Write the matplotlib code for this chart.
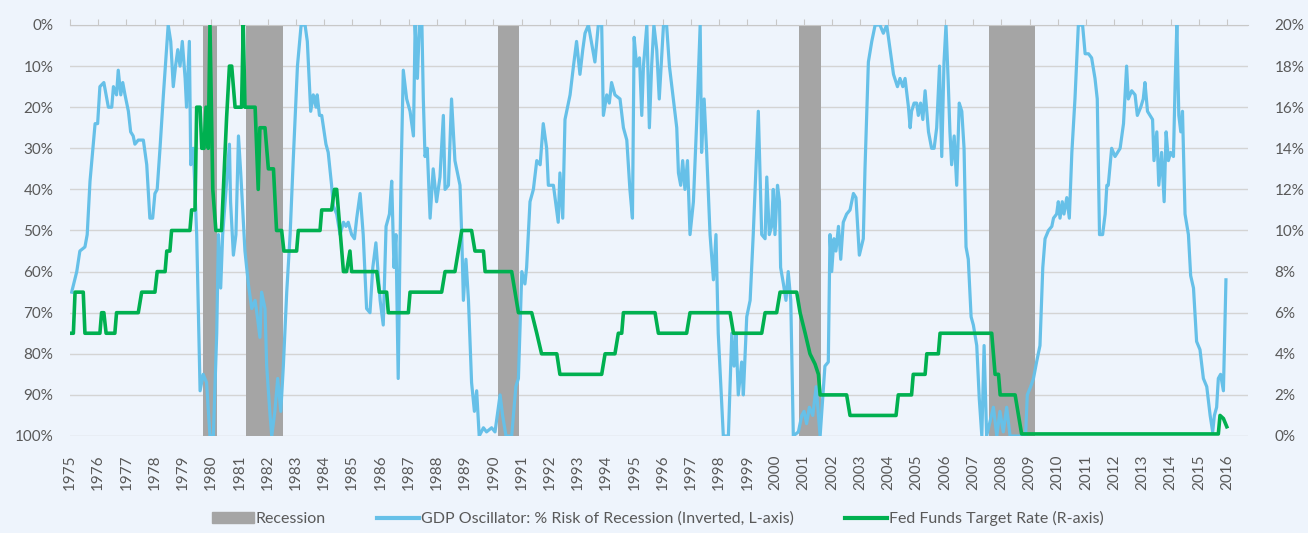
import matplotlib
matplotlib.use('Agg')
import matplotlib.pyplot as plt
import matplotlib.patches as mpatches
from matplotlib.lines import Line2D
import numpy as np

plt.rcParams['font.family'] = ['Lato', 'DejaVu Sans']
plt.rcParams['font.size'] = 11

# --- datos ---
years = list(range(1975, 2017))

recessions = [(1979.71, 1980.21), (1981.23, 1982.55), (1990.17, 1990.91),
              (2000.83, 2001.61), (2007.57, 2009.20)]

# GDP Oscillator: % riesgo de recesion (eje izq, invertido)
gdp_t = [1975.06, 1975.24, 1975.35, 1975.53, 1975.61, 1975.71, 1975.89, 1975.98, 1976.06, 1976.20,
         1976.36, 1976.48, 1976.54, 1976.65, 1976.71, 1976.80, 1976.87, 1976.95, 1977.07, 1977.15,
         1977.24, 1977.30, 1977.42, 1977.60, 1977.72, 1977.83, 1977.93, 1978.01, 1978.09, 1978.19,
         1978.31, 1978.48, 1978.57, 1978.66, 1978.74, 1978.82, 1978.90, 1978.98, 1979.08, 1979.13,
         1979.23, 1979.28, 1979.37, 1979.49, 1979.61, 1979.72, 1979.84, 1979.96, 1980.08, 1980.20,
         1980.26, 1980.34, 1980.41, 1980.53, 1980.65, 1980.69, 1980.79, 1980.88, 1980.97, 1981.05,
         1981.20, 1981.32, 1981.44, 1981.56, 1981.64, 1981.73, 1981.79, 1981.91, 1981.97, 1982.09,
         1982.15, 1982.26, 1982.36, 1982.47, 1982.56, 1982.68, 1982.80, 1982.91, 1983.06, 1983.19,
         1983.33, 1983.41, 1983.53, 1983.62, 1983.72, 1983.76, 1983.84, 1983.92, 1984.07, 1984.15,
         1984.27, 1984.33, 1984.45, 1984.57, 1984.69, 1984.78, 1984.86, 1984.98, 1985.08, 1985.16,
         1985.28, 1985.39, 1985.51, 1985.63, 1985.73, 1985.84, 1985.99, 1986.10, 1986.20, 1986.32,
         1986.40, 1986.48, 1986.55, 1986.63, 1986.73, 1986.81, 1986.93, 1987.05, 1987.17, 1987.23,
         1987.31, 1987.38, 1987.47, 1987.52, 1987.58, 1987.66, 1987.76, 1987.87, 1987.99, 1988.11,
         1988.23, 1988.29, 1988.41, 1988.52, 1988.64, 1988.82, 1988.88, 1988.94, 1989.03, 1989.12,
         1989.23, 1989.33, 1989.41, 1989.50, 1989.65, 1989.76, 1989.94, 1990.06, 1990.24, 1990.33,
         1990.45, 1990.65, 1990.80, 1990.89, 1991.01, 1991.12, 1991.18, 1991.30, 1991.42, 1991.54,
         1991.66, 1991.77, 1991.89, 1991.95, 1992.13, 1992.30, 1992.36, 1992.46, 1992.54, 1992.72,
         1992.84, 1992.95, 1993.07, 1993.17, 1993.25, 1993.37, 1993.60, 1993.72, 1993.84, 1993.90,
         1994.02, 1994.11, 1994.19, 1994.31, 1994.49, 1994.61, 1994.73, 1994.84, 1994.93, 1994.99,
         1995.08, 1995.18, 1995.26, 1995.32, 1995.44, 1995.53, 1995.61, 1995.69, 1995.79, 1995.88,
         1996.03, 1996.14, 1996.24, 1996.38, 1996.50, 1996.56, 1996.64, 1996.71, 1996.79, 1996.88,
         1996.97, 1997.09, 1997.21, 1997.33, 1997.38, 1997.47, 1997.56, 1997.68, 1997.80, 1997.89,
         1997.97, 1998.15, 1998.33, 1998.45, 1998.53, 1998.60, 1998.68, 1998.80, 1998.86, 1998.98,
         1999.10, 1999.21, 1999.39, 1999.51, 1999.63, 1999.69, 1999.78, 1999.86, 1999.92, 1999.98,
         2000.07, 2000.14, 2000.18, 2000.28, 2000.37, 2000.45, 2000.54, 2000.63, 2000.81, 2000.93,
         2001.01, 2001.10, 2001.20, 2001.32, 2001.44, 2001.58, 2001.67, 2001.75, 2001.87, 2001.93,
         2001.99, 2002.07, 2002.14, 2002.23, 2002.31, 2002.40, 2002.52, 2002.64, 2002.76, 2002.85,
         2002.97, 2003.11, 2003.17, 2003.29, 2003.41, 2003.53, 2003.70, 2003.82, 2003.94, 2004.06,
         2004.18, 2004.32, 2004.41, 2004.51, 2004.59, 2004.71, 2004.77, 2004.82, 2004.91, 2005.00,
         2005.06, 2005.14, 2005.22, 2005.30, 2005.42, 2005.53, 2005.62, 2005.71, 2005.81, 2005.89,
         2005.97, 2006.04, 2006.12, 2006.18, 2006.24, 2006.33, 2006.42, 2006.51, 2006.60, 2006.68,
         2006.75, 2006.83, 2006.93, 2007.01, 2007.13, 2007.22, 2007.31, 2007.39, 2007.48, 2007.72,
         2007.84, 2007.95, 2008.07, 2008.19, 2008.31, 2008.86, 2008.92, 2009.04, 2009.14, 2009.25,
         2009.37, 2009.47, 2009.55, 2009.67, 2009.79, 2009.85, 2009.96, 2010.02, 2010.08, 2010.16,
         2010.22, 2010.32, 2010.41, 2010.50, 2010.61, 2010.73, 2010.88, 2010.97, 2011.09, 2011.20,
         2011.32, 2011.40, 2011.48, 2011.59, 2011.68, 2011.74, 2011.79, 2011.91, 2012.03, 2012.21,
         2012.33, 2012.44, 2012.50, 2012.62, 2012.74, 2012.82, 2012.94, 2013.03, 2013.09, 2013.18,
         2013.27, 2013.36, 2013.41, 2013.51, 2013.58, 2013.68, 2013.77, 2013.84, 2013.92, 2014.00,
         2014.10, 2014.16, 2014.22, 2014.29, 2014.36, 2014.42, 2014.51, 2014.63, 2014.71, 2014.81,
         2014.92, 2015.04, 2015.16, 2015.28, 2015.40, 2015.49, 2015.55, 2015.63, 2015.69, 2015.77,
         2015.87, 2015.96]
gdp_v = [65, 60, 55, 54, 51, 38, 24, 24, 15, 14,
         20, 20, 15, 17, 11, 17, 14, 17, 21, 26,
         27, 29, 28, 28, 34, 47, 47, 41, 40, 30,
         17, 0, 4, 15, 10, 6, 10, 4, 13, 20,
         4, 34, 30, 51, 89, 85, 87, 100, 100, 75,
         51, 64, 51, 40, 29, 43, 56, 51, 27, 36,
         55, 63, 69, 67, 71, 76, 65, 69, 83, 95,
         100, 94, 86, 94, 83, 65, 51, 33, 10, 0,
         0, 4, 21, 17, 20, 17, 22, 22, 29, 31,
         39, 44, 46, 51, 48, 49, 48, 51, 52, 47,
         41, 51, 69, 70, 59, 53, 67, 73, 49, 46,
         38, 59, 51, 86, 37, 11, 18, 21, 27, 0,
         13, 0, 0, 18, 32, 30, 47, 35, 43, 37,
         22, 40, 39, 18, 33, 39, 51, 67, 57, 67,
         87, 94, 89, 100, 98, 99, 98, 99, 90, 95,
         100, 100, 88, 86, 60, 63, 59, 43, 40, 33,
         34, 24, 30, 39, 39, 48, 36, 47, 23, 17,
         10, 4, 12, 6, 2, 0, 9, 0, 0, 22,
         17, 19, 14, 17, 18, 25, 28, 40, 47, 3,
         10, 8, 22, 10, 0, 25, 10, 0, 6, 18,
         0, 0, 10, 18, 25, 36, 39, 33, 40, 33,
         51, 43, 23, 0, 31, 18, 31, 51, 62, 51,
         75, 100, 100, 75, 83, 75, 90, 82, 90, 71,
         67, 51, 21, 51, 52, 37, 51, 49, 40, 51,
         39, 43, 59, 63, 67, 60, 67, 100, 99, 95,
         94, 97, 93, 95, 88, 100, 91, 83, 82, 51,
         60, 52, 55, 49, 57, 48, 46, 45, 41, 42,
         56, 52, 35, 9, 4, 0, 0, 2, 0, 6,
         12, 15, 13, 15, 13, 20, 25, 21, 19, 19,
         22, 19, 23, 16, 26, 30, 30, 25, 10, 32,
         9, 0, 14, 26, 34, 27, 39, 19, 21, 30,
         54, 57, 71, 73, 78, 91, 100, 78, 100, 93,
         100, 94, 99, 93, 100, 100, 90, 88, 86, 82,
         78, 59, 52, 50, 49, 47, 46, 43, 47, 43,
         46, 42, 47, 31, 18, 0, 0, 7, 7, 8,
         13, 18, 51, 51, 46, 39, 39, 30, 32, 30,
         24, 10, 18, 16, 17, 22, 20, 18, 14, 21,
         22, 23, 33, 26, 39, 31, 43, 26, 33, 31,
         32, 14, 0, 22, 26, 21, 46, 51, 61, 64,
         77, 79, 86, 88, 95, 99, 95, 93, 86, 85,
         89, 62]

# Fed Funds Target Rate (eje der)
fed_t = [1975.00, 1975.12, 1975.18, 1975.47, 1975.53, 1976.06, 1976.12, 1976.20, 1976.28, 1976.59,
         1976.65, 1977.42, 1977.54, 1978.01, 1978.09, 1978.37, 1978.43, 1978.54, 1978.60, 1979.25,
         1979.31, 1979.43, 1979.49, 1979.61, 1979.67, 1979.75, 1979.82, 1979.90, 1979.96, 1980.06,
         1980.17, 1980.37, 1980.55, 1980.65, 1980.73, 1980.85, 1981.08, 1981.14, 1981.20, 1981.56,
         1981.67, 1981.73, 1981.91, 1982.03, 1982.21, 1982.32, 1982.50, 1982.58, 1983.03, 1983.09,
         1983.86, 1983.92, 1984.27, 1984.37, 1984.45, 1984.51, 1984.69, 1984.80, 1984.92, 1984.98,
         1985.87, 1985.96, 1986.22, 1986.28, 1986.99, 1987.05, 1988.17, 1988.29, 1988.64, 1988.76,
         1988.88, 1989.23, 1989.35, 1989.65, 1989.71, 1990.65, 1990.77, 1990.89, 1991.36, 1991.54,
         1991.71, 1992.25, 1992.36, 1993.84, 1993.96, 1994.31, 1994.43, 1994.55, 1994.61, 1995.73,
         1995.85, 1996.85, 1996.97, 1998.39, 1998.51, 1999.51, 1999.63, 2000.04, 2000.16, 2000.75,
         2000.87, 2001.05, 2001.22, 2001.40, 2001.52, 2001.58, 2002.52, 2002.64, 2004.27, 2004.35,
         2004.82, 2004.88, 2005.30, 2005.36, 2005.77, 2005.83, 2007.66, 2007.78, 2007.90, 2007.96,
         2008.49, 2008.61, 2008.72, 2015.69, 2015.75, 2015.87, 2015.99]
fed_v = [5, 5, 7, 7, 5, 5, 6, 6, 5, 5,
         6, 6, 7, 7, 8, 8, 9, 9, 10, 10,
         11, 11, 16, 16, 14, 14, 16, 14, 20, 12,
         10, 10, 15.5, 18, 18, 16, 16, 20, 16, 16,
         12, 15, 15, 13, 13, 10, 10, 9, 9, 10,
         10, 11, 11, 12, 12, 11, 8, 8, 9, 8,
         8, 7, 7, 6, 6, 7, 7, 8, 8, 9,
         10, 10, 9, 9, 8, 8, 7, 6, 6, 5,
         4, 4, 3, 3, 4, 4, 5, 5, 6, 6,
         5, 5, 6, 6, 5, 5, 6, 6, 7, 7,
         6, 5, 4, 3.5, 3, 2, 2, 1, 1, 2,
         2, 3, 3, 4, 4, 5, 5, 3, 3, 2,
         2, 1, 0.1, 0.1, 1.0, 0.85, 0.45]

# --- colores ---
BG = '#EEF4FC'
TXT = '#595959'
AZUL = '#66C0E8'
VERDE = '#00B050'
GRIS = '#A5A5A5'

fig = plt.figure(figsize=(13.08, 5.33), dpi=100, facecolor=BG)
ax = fig.add_axes([0.0535, 0.182, 0.9006, 0.7711])
ax.set_facecolor(BG)

for ini, fin in recessions:
    ax.axvspan(ini, fin, color=GRIS, lw=0, zorder=1)

ax.plot(gdp_t, gdp_v, color=AZUL, lw=2.3, zorder=3, solid_joinstyle='round')
ax.set_ylim(100, 0)
ax.set_yticks(np.arange(0, 101, 10))
ax.set_yticklabels([f'{v}%' for v in range(0, 101, 10)])
ax.set_xlim(1975, 2016.74)
ax.set_xticks(years)
ax.set_xticklabels([str(y) for y in years], rotation=90)
ax.grid(axis='y', color='#D4D4D4', lw=1, zorder=0)
ax.set_axisbelow(True)

for s in ['left', 'right', 'bottom']:
    ax.spines[s].set_visible(False)
ax.spines['top'].set_color('#C8C8C8')
ax.tick_params(axis='x', top=True, bottom=False, labeltop=False, labelbottom=True,
               direction='out', length=4, color='#C8C8C8', labelcolor=TXT, pad=9)
ax.tick_params(axis='y', length=0, labelcolor=TXT, pad=12)

ax2 = ax.twinx()
ax2.plot(fed_t, fed_v, color=VERDE, lw=2.6, zorder=4)
ax2.set_ylim(0, 20)
ax2.set_yticks(np.arange(0, 21, 2))
ax2.set_yticklabels([f'{v}%' for v in range(0, 21, 2)])
for s in ax2.spines.values():
    s.set_visible(False)
ax2.tick_params(axis='y', length=0, labelcolor=TXT, pad=19)

handles = [mpatches.Patch(color=GRIS, label='Recession'),
           Line2D([], [], color=AZUL, lw=3, label='GDP Oscillator: % Risk of Recession (Inverted, L-axis)'),
           Line2D([], [], color=VERDE, lw=3, label='Fed Funds Target Rate (R-axis)')]
leg = fig.legend(handles=handles, loc='center', bbox_to_anchor=(0.503, 0.027), ncol=3,
                 frameon=False, fontsize=11.5, handlelength=2.6, handletextpad=0.15,
                 columnspacing=3.2)
for t in leg.get_texts():
    t.set_color(TXT)

fig.savefig('out.png', dpi=100, facecolor=BG)
